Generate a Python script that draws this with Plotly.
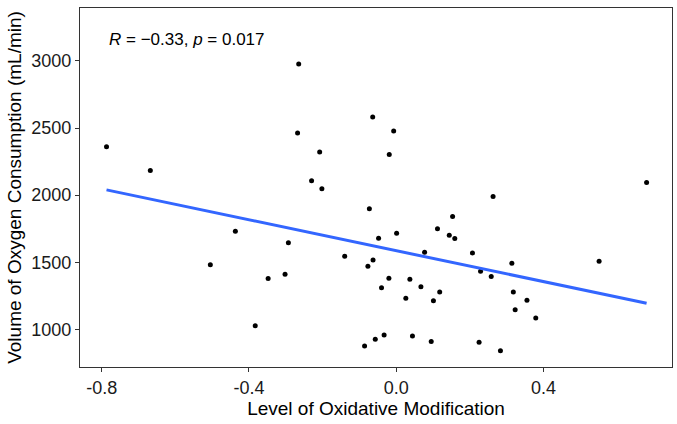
import numpy as np
import plotly.graph_objects as go

oxidative = [-0.787, -0.668, -0.265, -0.268, -0.064, -0.208, -0.230, -0.202, -0.007, -0.019,
             0.680, 0.263, -0.073, -0.048, -0.437, -0.293, -0.505, -0.348, -0.302, -0.140,
             -0.063, -0.077, -0.383, -0.086, -0.057, 0.153, 0.112, 0.144, 0.159, 0.001,
             0.077, 0.207, 0.229, 0.258, 0.314, 0.551, -0.020, -0.040, 0.037, 0.067,
             0.118, 0.101, 0.026, 0.318, 0.355, 0.323, 0.379, -0.033, 0.044, 0.095,
             0.225, 0.283]
vo2 = [2360, 2184, 2978, 2463, 2582, 2321, 2107, 2047, 2478, 2303,
       2094, 1990, 1898, 1679, 1731, 1646, 1482, 1378, 1410, 1545,
       1517, 1470, 1027, 875, 925, 1840, 1749, 1701, 1676, 1716,
       1575, 1569, 1433, 1393, 1493, 1507, 1381, 1310, 1373, 1318,
       1278, 1213, 1231, 1278, 1216, 1146, 1084, 957, 950, 910,
       903, 840]
x_ticks = [-0.8, -0.4, 0.0, 0.4]
x_tick_labels = ["-0.8", "-0.4", "0.0", "0.4"]
y_ticks = [1000, 1500, 2000, 2500, 3000]

x = np.array(oxidative)
y = np.array(vo2)
slope, intercept = np.polyfit(x, y, 1)
xl = np.array([x.min(), x.max()])
yl = slope * xl + intercept

fig = go.Figure()
fig.add_trace(go.Scatter(x=x, y=y, mode="markers",
                         marker=dict(color="black", size=5), showlegend=False))
fig.add_trace(go.Scatter(x=xl, y=yl, mode="lines",
                         line=dict(color="#3366FF", width=3), showlegend=False))

font = "Liberation Sans, Arial, sans-serif"
fig.update_layout(
    width=677, height=424,
    margin=dict(l=80, r=5, t=8, b=57),
    paper_bgcolor="white", plot_bgcolor="white",
    font=dict(family=font, size=17, color="black"),
    xaxis=dict(range=[-0.859, 0.749], tickvals=x_ticks, ticktext=x_tick_labels,
               showgrid=False, zeroline=False, showline=True, mirror=True,
               linecolor="#333333", linewidth=1.3, ticks="outside", ticklen=4,
               tickcolor="#333333", tickfont=dict(size=18, color="#1a1a1a"),
               title=dict(text="Level of Oxidative Modification", font=dict(size=19), standoff=2)),
    yaxis=dict(range=[719, 3395], tickvals=y_ticks,
               showgrid=False, zeroline=False, showline=True, mirror=True,
               linecolor="#333333", linewidth=1.3, ticks="outside", ticklen=4,
               tickcolor="#333333", tickfont=dict(size=18, color="#1a1a1a"),
               title=dict(text="Volume of Oxygen Consumption (mL/min)", font=dict(size=19), standoff=4)),
    annotations=[dict(x=-0.787, y=3160, xref="x", yref="y", xanchor="left", yanchor="middle",
                      text="<i>R</i> = −0.33, <i>p</i> = 0.017", showarrow=False,
                      font=dict(size=17, color="black"))],
)
fig.write_html("out.html")
